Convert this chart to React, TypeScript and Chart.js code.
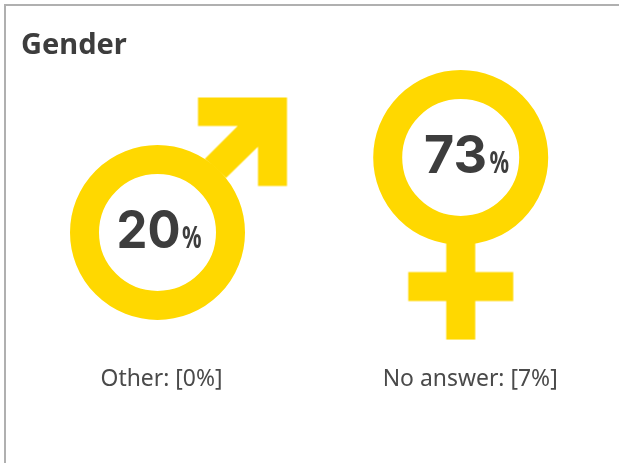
import { useEffect, useRef } from "react";
import { Chart, registerables } from "chart.js";

Chart.register(...registerables);

const chartTitle = "Gender";
const categories = ["Male", "Female"];
const shares = [20, 73];
const footnotes = ["Other: [0%]", "No answer: [7%]"];

const YELLOW = "#ffd800";
const DARK = "#3d3d3d";
const FONT = "'Noto Sans'";

const VALUE_DX = [-41, -36.7];
const FOOT_DX = [4, 9.5];
const FOOT_W = [122, 175];

function glyph(size: number, pts: number[][][]) {
  const c = document.createElement("canvas");
  c.width = size;
  c.height = size;
  const g = c.getContext("2d")!;
  g.fillStyle = YELLOW;
  g.translate(size / 2, size / 2);
  for (const poly of pts) {
    g.beginPath();
    poly.forEach(([x, y], i) => (i ? g.lineTo(x, y) : g.moveTo(x, y)));
    g.closePath();
    g.fill();
  }
  return c;
}

const textPlugin = {
  id: "infographicText",
  afterDatasetsDraw(chart: any) {
    const ctx = chart.ctx;
    const pts = chart.getDatasetMeta(0).data;
    ctx.save();
    ctx.textBaseline = "alphabetic";
    ctx.textAlign = "left";
    ctx.fillStyle = DARK;
    ctx.font = `700 29px ${FONT}`;
    ctx.fillText(chartTitle, 21, 54);
    shares.forEach((v, i) => {
      const p = pts[i];
      const base = p.y + 15.5;
      ctx.fillStyle = DARK;
      ctx.font = `700 52px Inter`;
      const s = String(v);
      const left = p.x + VALUE_DX[i];
      ctx.fillText(s, left, base, 64);
      ctx.font = `700 31px ${FONT}`;
      ctx.save();
      ctx.translate(left + 65.5, base);
      ctx.scale(0.7, 1);
      ctx.fillText("%", 0, 0);
      ctx.restore();
    });
    ctx.fillStyle = "#4a4a4a";
    ctx.font = `400 23px ${FONT}`;
    ctx.textAlign = "center";
    footnotes.forEach((t, i) => {
      ctx.fillText(t, pts[i].x + FOOT_DX[i], 386, FOOT_W[i]);
    });
    ctx.restore();
  },
};

export default function App() {
  const ref = useRef<HTMLCanvasElement>(null);
  useEffect(() => {
    const maleTail = glyph(280, [
      [
        [40.5, -135],
        [129.5, -135],
        [129.5, -46.5],
        [100.5, -46.5],
        [100.5, -85.8],
        [68.5, -54.5],
        [47.2, -73.5],
        [80.2, -106.5],
        [40.5, -106.5],
      ],
    ]);
    const femaleTail = glyph(380, [
      [
        [-14.5, 80],
        [14.5, 80],
        [14.5, 182],
        [-14.5, 182],
      ],
      [
        [-52.5, 114.5],
        [52.5, 114.5],
        [52.5, 143.5],
        [-52.5, 143.5],
      ],
    ]);
    const chart = new Chart(ref.current!, {
      type: "line",
      data: {
        labels: categories,
        datasets: [
          {
            label: "Ring",
            data: shares,
            showLine: false,
            clip: false,
            pointStyle: "circle",
            pointRadius: 73,
            pointBorderWidth: 29,
            pointBorderColor: YELLOW,
            pointBackgroundColor: "rgba(0,0,0,0)",
          },
          {
            label: "Symbol",
            data: shares,
            showLine: false,
            clip: false,
            pointStyle: [maleTail, femaleTail],
            pointRadius: 1,
            pointBorderWidth: 0,
          },
        ],
      },
      options: {
        responsive: false,
        animation: false,
        events: [],
        layout: { autoPadding: false, padding: { left: 5.9, right: 6.7, top: 6.1, bottom: 4.1 } },
        plugins: { legend: { display: false }, tooltip: { enabled: false } },
        scales: {
          x: { type: "category", offset: true, display: false },
          y: { type: "linear", min: -140, max: 180, display: false },
        },
      },
      plugins: [textPlugin],
    } as any);
    return () => chart.destroy();
  }, []);
  return (
    <div style={{ position: "fixed", left: 0, top: 0, width: 619, height: 463, overflow: "hidden", background: "#fff" }}>
      <div style={{ position: "absolute", left: 4, top: 4, width: 800, height: 800, border: "2px solid #b0b0b0" }} />
      <canvas ref={ref} width={619} height={463} style={{ position: "absolute", left: 0, top: 0, display: "block" }} />
    </div>
  );
}
